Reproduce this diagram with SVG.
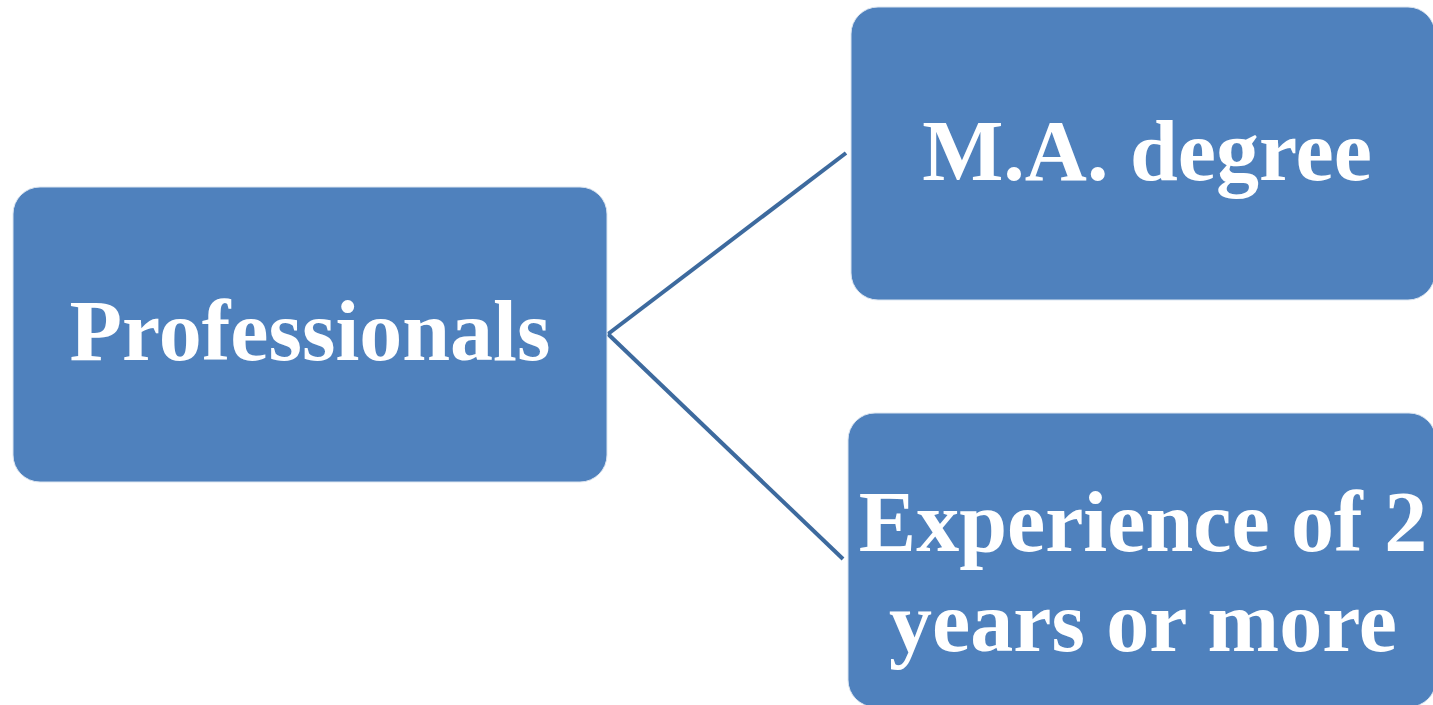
<svg xmlns="http://www.w3.org/2000/svg" width="1433" height="705" viewBox="0 0 1433 705">
<style>
.box{fill:#4f81bd;stroke:#dbe5f1;stroke-width:1}
.lbl{font-family:"Liberation Serif","Times New Roman",serif;font-weight:bold;font-size:86px;fill:#ffffff;text-anchor:middle}
.conn{stroke:#3d6a9e;stroke-width:4;fill:none}
</style>
<rect width="1433" height="705" fill="#ffffff"/>
<g id="connectors">
<line class="conn" x1="608" y1="334" x2="846" y2="153"/>
<line class="conn" x1="608" y1="334" x2="843" y2="559"/>
</g>
<g id="node-professionals">
<rect class="box" x="13" y="187" width="594" height="295" rx="27" ry="27"/>
<text class="lbl" x="310" y="360">Professionals</text>
</g>
<g id="node-ma">
<rect class="box" x="851" y="7" width="584" height="293" rx="27" ry="27"/>
<text class="lbl" x="1147" y="180">M.A. degree</text>
</g>
<g id="node-experience">
<rect class="box" x="848" y="413" width="588" height="294" rx="27" ry="27"/>
<text class="lbl" x="1143" y="551">Experience of 2</text>
<text class="lbl" x="1143" y="651">years or more</text>
</g>
</svg>
